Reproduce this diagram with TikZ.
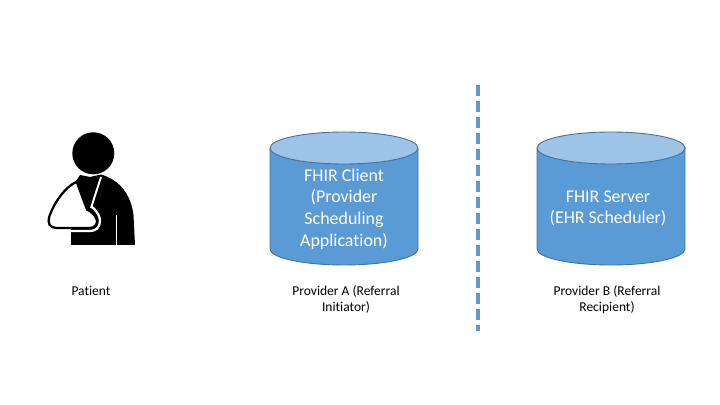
\documentclass[tikz,border=0pt]{standalone}
\usepackage{fontspec}
\setmainfont[RawFeature=-liga]{Carlito}
\usepackage{pgf,tikz}
\usetikzlibrary{positioning}
\definecolor{bodyblue}{rgb}{0.357,0.608,0.835}
\definecolor{topblue}{rgb}{0.616,0.765,0.902}
\definecolor{edgeblue}{rgb}{0.255,0.443,0.612}
\tikzset{
  dblabel/.style={text=white,font=\fontsize{10.2}{12.3}\selectfont,align=center},
  caption/.style={text=black,font=\fontsize{7.7}{9.1}\selectfont,align=center}
}
\newcommand{\dbcyl}[1]{
\draw [fill=bodyblue,draw=edgeblue,line width=0.5pt] (#1-74,148) -- (#1-74,249) arc (180:0:74 and 16) -- (#1+74,148) -- cycle;
\draw [fill=topblue,draw=edgeblue,line width=0.5pt] (#1,148) ellipse (74 and 16);
}
\begin{document}
\begin{tikzpicture}[line cap=round,line join=round,x=0.02cm,y=-0.02cm]
\useasboundingbox (0,0) rectangle (720,405);
% figure
\fill (93.3,153.3) circle (21);
\fill (80,175) -- (90,177) -- (101,174.5) .. controls (120,180) and (131,195) .. (133.5,215) -- (135,245) -- (71,245) -- (71,200) -- (76,181) -- cycle;
\draw [white,line width=0.6pt,line cap=butt] (116.5,215) -- (116.5,245);
% sling
\draw [white,line width=1.3pt] (92,207) .. controls (98,212) and (100,217) .. (100,221) .. controls (100,228) and (95,231) .. (90,231) -- (71,231);
\draw [fill=white,draw=black,line width=1.3pt] (76.7,181.7) .. controls (65,187) and (54,203) .. (49.5,216) .. controls (47,224) and (50,227.5) .. (56,228) -- (90,228) .. controls (95,228) and (97.5,224) .. (97,220) .. controls (95,215) and (92,212) .. (87,209.5) -- cycle;
\draw [white,line width=1.1pt,line cap=butt] (101,177) -- (91,208);
% cylinders
\dbcyl{344}
\dbcyl{611}
\node [dblabel] (client) at (344,209) {FHIR Client\\(Provider\\Scheduling\\Application)};
\node [dblabel] (server) at (608,208.5) {FHIR Server\\(EHR Scheduler)};
% divider
\draw [bodyblue,line width=2.3pt,line cap=butt,dash pattern=on 6.4pt off 2.7pt] (478,85) -- (478,331);
% captions
\node [caption] (patient) at (91,291) {Patient};
\node [caption] (providera) at (346,299.5) {Provider A (Referral\\Initiator)};
\node [caption] (providerb) at (607,300) {Provider B (Referral\\Recipient)};
\end{tikzpicture}
\end{document}
